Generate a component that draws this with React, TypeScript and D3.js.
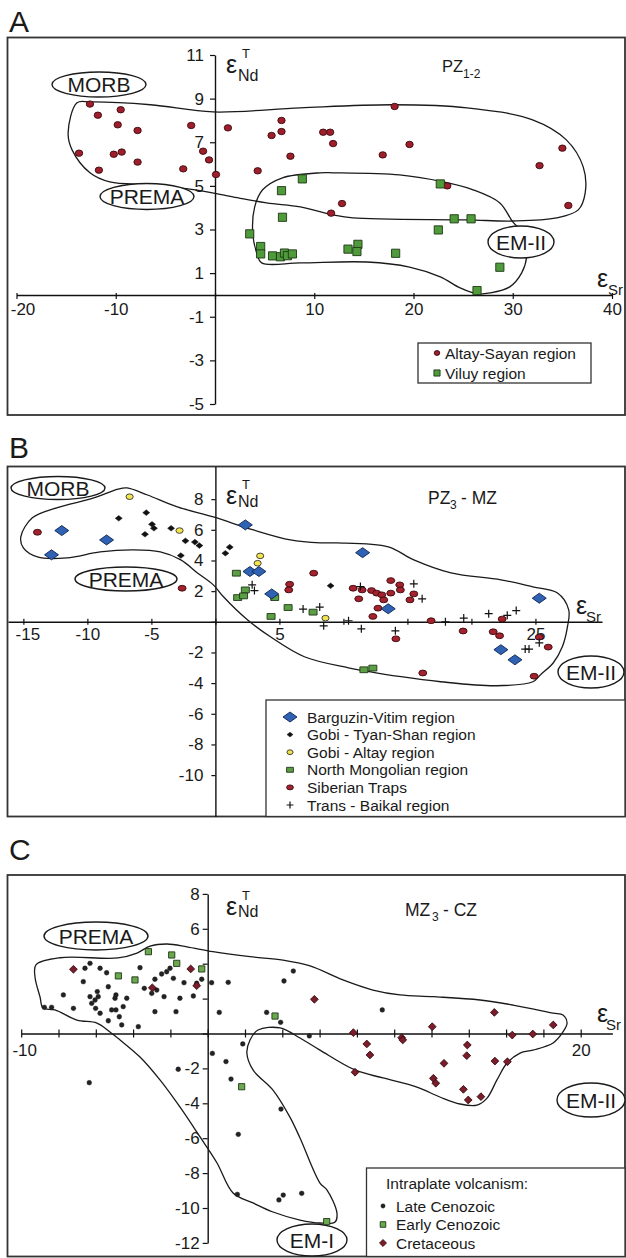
import { useEffect, useRef } from 'react';
import * as d3 from 'd3';

type Pt = [number, number];

// ---- Panel A (PZ1-2) ----
const altaySayan: Pt[] = [
  [-12.6, 8.75], [-11.8, 8.24], [-9.5, 8.49], [-9.8, 7.8], [-7.8, 7.54], [-13.7, 6.5],
  [-10.2, 6.45], [-9.4, 6.55], [-7.8, 6.09], [-11.7, 5.72], [-3.2, 5.78], [-2.4, 7.77],
  [-1.2, 6.59], [-0.6, 6.19], [0.1, 5.52], [1.3, 7.66], [4.3, 5.69], [5.7, 7.31],
  [6.7, 8.0], [6.7, 7.49], [7.6, 6.36], [18.1, 8.64], [10.9, 7.46], [11.6, 7.46],
  [11.9, 6.94], [19.6, 6.9], [16.9, 6.42], [35.0, 6.73], [32.7, 5.93], [35.6, 4.1],
  [23.4, 5.0], [12.8, 4.19], [11.7, 3.75],
];
const viluy: Pt[] = [
  [8.8, 5.32], [6.7, 4.78], [6.8, 3.56], [3.5, 2.8], [4.6, 2.22], [4.6, 1.88],
  [5.8, 1.79], [6.6, 1.75], [7.0, 1.92], [7.3, 1.8], [7.8, 1.88], [22.7, 5.09],
  [24.1, 3.49], [25.8, 3.49], [22.5, 2.98], [13.4, 2.1], [14.4, 2.32], [14.3, 1.99],
  [18.2, 1.91], [28.7, 1.27], [26.4, 0.2],
];
const envelopeAltay: Pt[] = [
  [-14.8, 7.43], [-13.9, 8.81], [-12.6, 8.85], [-6.5, 8.72], [-0.2, 8.39], [8.6, 8.58],
  [17.9, 8.72], [25.4, 8.58], [32.0, 8.03], [35.4, 7.11], [37.1, 5.87], [37.3, 4.68],
  [36.6, 3.9], [34.4, 3.53], [30.0, 3.39], [25.4, 3.44], [13.9, 3.53], [11.9, 3.67],
  [8.6, 4.04], [5.2, 4.22], [1.8, 4.5], [-2.0, 4.82], [-6.5, 5.05], [-10.6, 5.18],
  [-12.6, 5.6], [-14.4, 6.65],
];
const envelopeViluy: Pt[] = [
  [10.6, 5.6], [6.8, 5.37], [4.8, 4.82], [4.0, 4.04], [3.8, 2.84], [4.2, 1.93],
  [4.7, 1.47], [8.6, 1.47], [15.3, 1.51], [19.6, 1.28], [22.7, 0.83], [24.7, 0.32],
  [26.4, 0.05], [27.7, 0.09], [29.7, 0.37], [30.9, 1.01], [31.4, 1.74], [31.2, 2.75],
  [30.0, 3.35], [28.7, 4.22], [26.0, 4.82], [23.0, 5.18], [18.6, 5.5], [11.9, 5.6],
];
const xTicksA = [-20, -10, 0, 10, 20, 30, 40];
const xLabelsA = [-20, -10, 10, 20, 30, 40];
const yTicksA = [11, 9, 7, 5, 3, 1, -1, -3, -5];
const legendA = ['Altay-Sayan region', 'Viluy region'];

// ---- Panel B (PZ3 - MZ) ----
const barguzinVitim: Pt[] = [
  [-12.0, 5.95], [-12.8, 4.37], [-8.5, 5.34], [2.34, 6.32], [2.7, 3.28], [3.4, 3.28],
  [4.4, 1.82], [11.5, 4.51], [13.5, 0.85], [25.3, 1.54], [22.3, -1.82], [23.4, -2.48],
];
const gobiTyanShan: Pt[] = [
  [-7.55, 6.75], [-5.4, 7.12], [-4.95, 6.36], [-4.8, 6.1], [-5.5, 5.71], [-3.46, 6.1],
  [-2.34, 5.28], [-1.6, 5.2], [-1.25, 4.97], [-2.7, 4.32], [1.12, 4.87], [0.78, 4.47],
  [9.0, 2.35],
];
const gobiAltay: Pt[] = [[-6.7, 8.16], [-2.8, 5.95], [3.5, 4.3], [3.3, 3.82], [8.6, 0.24]];
const northMongolian: Pt[] = [
  [1.64, 3.17], [2.34, 2.08], [1.74, 1.58], [2.2, 1.69], [4.63, 1.58], [5.68, 0.93],
  [4.35, 0.35], [7.63, 0.63], [11.6, -3.13], [12.3, -3.02],
];
const siberianTraps: Pt[] = [
  [-13.9, 5.84], [-2.6, 2.19], [5.8, 2.45], [5.73, 2.08], [7.68, 3.17], [10.76, 2.19],
  [11.46, 2.08], [11.2, 1.5], [12.2, 2.04], [12.6, 1.87], [13.0, 1.76], [13.15, 1.43],
  [13.7, 1.87], [13.7, 2.69], [14.4, 2.41], [14.45, 2.08], [15.2, 1.43], [15.5, 1.82],
  [12.7, 0.89], [12.3, 0.35], [16.85, 0.07], [14.1, -1.11], [19.35, -0.6], [21.7, -0.65],
  [22.2, -0.91], [22.4, 0.18], [25.3, -1.0], [26.0, -1.65], [24.9, -3.55], [16.2, -3.34],
];
const transBaikal: Pt[] = [
  [2.87, 2.41], [3.05, 2.04], [6.85, 0.83], [8.15, 0.96], [8.46, -0.26], [10.4, 0.07],
  [11.33, 2.3], [11.4, -0.46], [14.06, -0.59], [15.5, 2.48], [16.15, 1.5], [17.97, 0.0],
  [19.4, 0.24], [21.35, 0.53], [22.8, 0.42], [23.5, 0.73], [24.2, -1.78], [24.5, -1.78],
  [25.3, -1.37],
];
const envelopeB: Pt[] = [
  [-15.2, 5.54], [-14.3, 6.78], [-12.4, 7.43], [-9.5, 8.08], [-7.6, 8.66], [-6.9, 8.73],
  [-5.3, 8.27], [-2.97, 7.49], [-0.16, 6.84], [2.97, 5.99], [5.86, 5.34], [8.2, 5.15],
  [9.5, 5.15], [13.5, 4.89], [15.5, 4.04], [18.4, 3.19], [22.3, 2.74], [24.8, 2.28],
  [26.7, 1.89], [27.6, 0.78], [27.5, -0.33], [27.1, -1.63], [26.4, -2.67], [25.4, -3.45],
  [24.8, -3.91], [21.95, -4.17], [17.6, -3.91], [14.5, -3.58], [10.4, -3.0], [6.95, -2.28],
  [4.3, -0.98], [2.5, 0.13], [0.63, 1.63], [-0.16, 2.41], [-1.4, 3.19], [-2.7, 4.04],
  [-4.3, 4.56], [-6.4, 4.69], [-9.0, 4.56], [-11.6, 4.17], [-13.9, 4.23], [-15.0, 4.82],
];
const xTicksB = [-15, -10, -5, 0, 5, 10, 15, 20, 25];
const xLabelsB = [-15, -10, -5, 5, 25];
const yTicksB = [8, 6, 4, 2, 0, -2, -4, -6, -8, -10];
const yLabelsB = [8, 6, 4, 2, -2, -4, -6, -8, -10];
const legendB = [
  'Barguzin-Vitim region', 'Gobi - Tyan-Shan region', 'Gobi - Altay region',
  'North Mongolian region', 'Siberian Traps', 'Trans - Baikal region',
];

// ---- Panel C (MZ3 - CZ) ----
const lateCenozoic: Pt[] = [
  [-8.76, 1.5], [-8.37, 1.5], [-7.74, 2.21], [-7.2, 1.44], [-6.67, 2.97], [-6.58, 3.74],
  [-6.31, 4.02], [-6.31, 2.11], [-6.22, 1.73], [-6.04, 1.92], [-5.92, 2.4], [-5.77, 3.74],
  [-5.87, 2.11], [-6.01, 1.44], [-5.77, 1.16], [-5.42, 3.48], [-5.33, 2.68], [-5.33, 0.73],
  [-5.15, 1.35], [-4.92, 1.35], [-4.92, 2.21], [-4.97, 2.02], [-4.74, 0.96], [-4.61, 0.49],
  [-4.53, 1.54], [-4.34, 2.02], [-3.72, 0.39], [-3.63, 3.77], [-3.4, 2.59], [-3.0, 2.3],
  [-2.83, 3.11], [-2.83, 1.25], [-2.73, 2.49], [-2.47, 3.41], [-2.34, 2.11], [-2.2, 3.54],
  [-2.02, 3.74], [-1.84, 3.16], [-1.7, 1.25], [-1.49, 2.02], [-1.27, 2.91], [-0.77, 2.15],
  [-0.59, 2.88], [-0.32, 3.11], [0.21, 2.91], [1.1, 2.93], [0.62, 1.21], [3.16, 1.21],
  [3.91, 0.64], [4.09, 3.01], [4.59, 3.58], [1.88, -0.6], [9.36, 1.35], [5.45, -0.14],
  [0.25, -1.14], [0.98, -1.61], [-1.58, -2.05], [1.25, -2.61], [-6.35, -2.82], [3.93, -4.33],
  [1.64, -5.78], [1.59, -9.22], [3.82, -9.54], [4.05, -9.26], [5.04, -9.16],
];
const earlyCenozoic: Pt[] = [
  [-3.18, 4.69], [-1.93, 4.5], [-1.66, 4.02], [-0.32, 3.7], [-4.79, 3.3], [-3.9, 3.07],
  [3.61, 1.0], [1.82, -3.05], [6.38, -10.78],
];
const cretaceous: Pt[] = [
  [-7.2, 3.68], [-0.91, 3.7], [-2.97, 2.62], [-0.59, 2.74], [5.72, 1.96], [15.37, 1.21],
  [12.04, 0.39], [7.81, 0.05], [18.53, 0.49], [8.53, -0.6], [10.4, -0.24], [10.46, -0.37],
  [16.33, -0.09], [17.43, -0.03], [13.92, -0.66], [8.7, -1.23], [13.89, -1.27], [12.67, -1.71],
  [15.4, -1.58], [16.07, -1.62], [7.9, -2.22], [12.1, -2.57], [12.23, -2.85], [13.71, -3.2],
  [13.97, -3.81], [14.65, -3.62],
];
const envelopeC: Pt[] = [
  [-9.21, 3.93], [-7.92, 4.34], [-4.81, 4.33], [-3.79, 4.61], [-3.09, 5.01], [-2.18, 5.13],
  [-1.11, 4.97], [0.28, 4.69], [2.27, 4.4], [4.04, 4.21], [5.49, 3.87], [7.25, 3.07],
  [8.86, 2.49], [10.31, 2.21], [12.08, 2.11], [14.6, 1.92], [16.37, 1.63], [18.52, 1.17],
  [19.05, 1.06], [19.27, 0.6], [19.05, 0.09], [18.52, -0.54], [17.44, -0.95], [16.75, -1.12],
  [16.05, -1.69], [15.51, -2.66], [14.98, -3.7], [14.44, -4.1], [13.53, -4.04], [12.45, -3.64],
  [11.22, -3.07], [9.4, -2.55], [7.9, -2.09], [6.02, -0.95], [4.95, -0.26], [3.88, 0.32],
  [2.7, 0.2], [2.27, -0.37], [2.1, -1.12], [2.43, -2.09], [3.5, -3.24], [4.41, -4.79],
  [4.95, -5.99], [6.02, -8.57], [6.4, -8.97], [6.93, -10.29], [6.83, -10.8], [6.02, -10.86],
  [4.95, -10.69], [3.5, -10.23], [2.43, -9.71], [1.36, -9.14], [0.5, -7.42], [-0.41, -5.93],
  [-1.49, -4.21], [-2.56, -2.66], [-3.63, -1.35], [-4.7, -0.37], [-5.24, 0.09], [-5.94, 0.6],
  [-7.01, 0.77], [-8.19, 1.35], [-8.83, 1.46], [-8.99, 2.09], [-9.26, 3.24],
];
const xTicksC = [-10, -8, -6, -4, -2, 0, 2, 4, 6, 8, 10, 12, 14, 16, 18, 20];
const xLabelsC = [-10, 20];
const yTicksC = [8, 6, 4, 2, 0, -2, -4, -6, -8, -10, -12];
const yLabelsC = [8, 6, -2, -4, -6, -8, -10, -12];
const legendC = ['Late Cenozoic', 'Early Cenozoic', 'Cretaceous'];

const FONT = '"Liberation Sans", Arial, Helvetica, sans-serif';
const INK = '#1a1a1a';

type Mark = { kind: string; w: number; h: number; fill: string; stroke: string; sw: number };

const M: Record<string, Mark> = {
  altay: { kind: 'ellipse', w: 3.7, h: 3.2, fill: '#9e1f2b', stroke: '#3b0a0e', sw: 0.9 },
  viluy: { kind: 'square', w: 4.1, h: 4.1, fill: '#4f9a3b', stroke: '#1d3814', sw: 0.9 },
  barguzin: { kind: 'diamond', w: 7, h: 5, fill: '#2f62b3', stroke: '#0f2450', sw: 0.9 },
  gobiTyan: { kind: 'diamond', w: 3.5, h: 2.8, fill: '#111', stroke: '#111', sw: 0.5 },
  gobiAltay: { kind: 'ellipse', w: 3.6, h: 2.8, fill: '#f2e44c', stroke: '#333', sw: 0.9 },
  northMong: { kind: 'square', w: 4, h: 2.9, fill: '#5c9e45', stroke: '#1d3814', sw: 0.9 },
  siberian: { kind: 'ellipse', w: 4, h: 2.9, fill: '#a3222e', stroke: '#3b0a0e', sw: 0.9 },
  transBaikal: { kind: 'cross', w: 4, h: 4, fill: 'none', stroke: '#111', sw: 1.2 },
  lateCz: { kind: 'ellipse', w: 2.4, h: 2.4, fill: '#222', stroke: '#222', sw: 0.4 },
  earlyCz: { kind: 'square', w: 3.1, h: 3.1, fill: '#6ba84f', stroke: '#1d3814', sw: 0.9 },
  cretaceous: { kind: 'diamond', w: 3.9, h: 3.9, fill: '#7a1c2a', stroke: '#2a0508', sw: 0.8 },
};

const markPath = (kind: string, w: number, h: number) => {
  switch (kind) {
    case 'square': return `M${-w},${-h}H${w}V${h}H${-w}Z`;
    case 'diamond': return `M0,${-h}L${w},0L0,${h}L${-w},0Z`;
    case 'cross': return `M${-w},0H${w}M0,${-h}V${h}`;
    default: return `M${-w},0A${w},${h} 0 1,0 ${w},0A${w},${h} 0 1,0 ${-w},0Z`;
  }
};

const App = () => {
  const svgRef = useRef<SVGSVGElement>(null);

  useEffect(() => {
    const svg = d3.select(svgRef.current);
    svg.selectAll('*').remove();
    svg.attr('font-family', FONT);

    const text = (x: number, y: number, s: string, size: number, anchor = 'start') =>
      svg.append('text').attr('x', x).attr('y', y).attr('font-size', size)
        .attr('text-anchor', anchor).attr('fill', INK).text(s);

    const frame = (top: number, bottom: number) =>
      svg.append('rect').attr('x', 7.5).attr('y', top).attr('width', 617.5)
        .attr('height', bottom - top).attr('fill', 'none').attr('stroke', '#333').attr('stroke-width', 1.8);

    const scatter = (pts: Pt[], x: any, y: any, m: Mark) =>
      svg.append('g').selectAll('path').data(pts).join('path')
        .attr('transform', d => `translate(${x(d[0])},${y(d[1])})`)
        .attr('d', markPath(m.kind, m.w, m.h))
        .attr('fill', m.fill).attr('stroke', m.stroke).attr('stroke-width', m.sw);

    const envelope = (pts: Pt[], x: any, y: any) => {
      const line = d3.line<Pt>().x(d => x(d[0])).y(d => y(d[1]))
        .curve(d3.curveCatmullRomClosed.alpha(0.5));
      svg.append('path').attr('d', line(pts)).attr('fill', 'none')
        .attr('stroke', '#1a1a1a').attr('stroke-width', 1.3);
    };

    const tag = (cx: number, cy: number, rx: number, ry: number, s: string) => {
      svg.append('ellipse').attr('cx', cx).attr('cy', cy).attr('rx', rx).attr('ry', ry)
        .attr('fill', '#fff').attr('stroke', '#1a1a1a').attr('stroke-width', 1.4);
      text(cx, cy + 7.5, s, 21, 'middle');
    };

    const styleAxis = (g: any) => {
      g.attr('font-family', FONT).attr('font-size', 17);
      g.select('.domain').attr('stroke', '#111').attr('stroke-width', 1.4);
      g.selectAll('.tick line').attr('stroke', '#111').attr('stroke-width', 1.2);
      g.selectAll('.tick text').attr('fill', INK);
    };

    const axes = (x: any, y: any, o: any) => {
      const gx = svg.append('g').attr('transform', `translate(0,${y(0)})`)
        .call(d3.axisBottom(x).tickValues(o.xTicks).tickSizeInner(o.xTick).tickSizeOuter(0)
          .tickPadding(o.xPad).tickFormat((d: any) => (o.xLabels.includes(d) ? String(d) : '')));
      styleAxis(gx);
      gx.selectAll('.tick line').attr('y1', -o.xTickUp).attr('y2', o.xTick);
      // the leftmost label sits a little inside the frame, as in the source figure
      gx.selectAll('.tick text').filter((d: any) => d === o.xTicks[0]).attr('dx', o.firstDx || 0);
      const gy = svg.append('g').attr('transform', `translate(${x(0)},0)`)
        .call(d3.axisLeft(y).tickValues(o.yTicks).tickSizeInner(o.yTick).tickSizeOuter(0)
          .tickPadding(o.yPad).tickFormat((d: any) => (o.yLabels.includes(d) ? String(d) : '')));
      styleAxis(gy);
    };

    const eps = (x: number, base: number, sub: string, subDx: number, subDy: number, sup?: string) => {
      text(x, base, 'ε', 25);
      text(x + subDx, base + subDy, sub, sup ? 16 : 15);
      if (sup) text(x + 16, base - 15, sup, 13);
    };

    // ================= Panel A =================
    text(9, 32, 'A', 30);
    frame(37.5, 415);
    const xA = d3.scaleLinear().domain([-20, 40]).range([16.5, 612]);
    const yA = d3.scaleLinear().domain([-5, 11]).range([404, 55]);
    axes(xA, yA, { xTicks: xTicksA, xLabels: xLabelsA, xTick: 4, xTickUp: 2, xPad: 4, firstDx: 6,
      yTicks: yTicksA, yLabels: yTicksA, yTick: 5, yPad: 6 });
    envelope(envelopeAltay, xA, yA);
    envelope(envelopeViluy, xA, yA);
    tag(99, 84.5, 47, 12.5, 'MORB');
    tag(147, 196.5, 47, 13, 'PREMA');
    tag(521, 242, 33, 16, 'EM-II');
    scatter(altaySayan, xA, yA, M.altay);
    scatter(viluy, xA, yA, M.viluy);
    eps(226, 73, 'Nd', 12, 8, 'T');
    eps(597, 287, 'Sr', 11, 8);
    text(442, 72, 'PZ', 16.5);
    text(463, 77.5, '1-2', 12);
    svg.append('rect').attr('x', 418).attr('y', 343).attr('width', 173).attr('height', 40)
      .attr('fill', '#fff').attr('stroke', '#333').attr('stroke-width', 1.3);
    [M.altay, M.viluy].forEach((m, i) => {
      svg.append('path').attr('transform', `translate(437,${353 + i * 20})`)
        .attr('d', markPath(m.kind, m.w * 0.75, m.h * 0.75))
        .attr('fill', m.fill).attr('stroke', m.stroke).attr('stroke-width', m.sw);
      text(445, 358.5 + i * 20, legendA[i], 15.5);
    });

    // ================= Panel B =================
    text(9, 458, 'B', 30);
    frame(466.5, 816.5);
    const xB = d3.scaleLinear().domain([-16.2, 30.2]).range([8, 602]);
    const yB = d3.scaleLinear().domain([-12.7, 10.13]).range([816.5, 466.5]);
    axes(xB, yB, { xTicks: xTicksB, xLabels: xLabelsB, xTick: 3, xTickUp: 3, xPad: 3, firstDx: 4,
      yTicks: yTicksB, yLabels: yLabelsB, yTick: 4, yPad: 8 });
    envelope(envelopeB, xB, yB);
    tag(58, 488, 47, 11.5, 'MORB');
    tag(126, 579, 51, 12, 'PREMA');
    tag(591, 672, 33, 16, 'EM-II');
    scatter(siberianTraps, xB, yB, M.siberian);
    scatter(northMongolian, xB, yB, M.northMong);
    scatter(gobiAltay, xB, yB, M.gobiAltay);
    scatter(gobiTyanShan, xB, yB, M.gobiTyan);
    scatter(barguzinVitim, xB, yB, M.barguzin);
    scatter(transBaikal, xB, yB, M.transBaikal);
    eps(226, 504, 'Nd', 12, 3, 'T');
    eps(576, 614, 'Sr', 10, 8);
    text(428, 504, 'PZ', 17.5);
    text(450, 509, '3', 12);
    text(461, 504, '- MZ', 17.5);
    svg.append('rect').attr('x', 266).attr('y', 700).attr('width', 359).attr('height', 116.5)
      .attr('fill', '#fff').attr('stroke', '#333').attr('stroke-width', 1.3);
    [M.barguzin, M.gobiTyan, M.gobiAltay, M.northMong, M.siberian, M.transBaikal].forEach((m, i) => {
      const k = i === 0 ? 1 : 0.85;
      svg.append('path').attr('transform', `translate(290,${717 + i * 17.6})`)
        .attr('d', markPath(m.kind, m.w * k, m.h * k))
        .attr('fill', m.fill).attr('stroke', m.stroke).attr('stroke-width', m.sw);
      text(307, 722.5 + i * 17.6, legendB[i], 15.5);
    });

    // ================= Panel C =================
    text(9, 860, 'C', 30);
    frame(875, 1256.5);
    const xC = d3.scaleLinear().domain([-10, 21.7]).range([21.2, 612.4]);
    const yC = d3.scaleLinear().domain([-12, 8]).range([1242.9, 893.9]);
    axes(xC, yC, { xTicks: xTicksC, xLabels: xLabelsC, xTick: 4, xTickUp: 4, xPad: 6.5, firstDx: 3,
      yTicks: yTicksC, yLabels: yLabelsC, yTick: 5, yPad: 3 });
    envelope(envelopeC, xC, yC);
    tag(96, 936, 52, 14, 'PREMA');
    tag(591, 1100, 34, 17, 'EM-II');
    tag(312, 1240, 35, 16, 'EM-I');
    scatter(lateCenozoic, xC, yC, M.lateCz);
    scatter(earlyCenozoic, xC, yC, M.earlyCz);
    scatter(cretaceous, xC, yC, M.cretaceous);
    eps(226, 915, 'Nd', 12, 2, 'T');
    eps(597, 1022, 'Sr', 9, 8);
    text(405, 916, 'MZ', 17.5);
    text(432, 921, '3', 12);
    text(443, 916, '- CZ', 17.5);
    svg.append('rect').attr('x', 366.5).attr('y', 1168).attr('width', 258.5).attr('height', 88.5)
      .attr('fill', '#fff').attr('stroke', '#333').attr('stroke-width', 1.3);
    text(386, 1189, 'Intraplate volcanism:', 15.5);
    [M.lateCz, M.earlyCz, M.cretaceous].forEach((m, i) => {
      svg.append('path').attr('transform', `translate(383,${1206 + i * 18.5})`)
        .attr('d', markPath(m.kind, m.w * 0.9, m.h * 0.9))
        .attr('fill', m.fill).attr('stroke', m.stroke).attr('stroke-width', m.sw);
      text(396, 1211.5 + i * 18.5, legendC[i], 15.5);
    });
  }, []);

  return (
    <svg
      ref={svgRef}
      width={626}
      height={1258}
      style={{ position: 'absolute', left: 0, top: 0, background: '#fff' }}
    />
  );
};

export default App;
